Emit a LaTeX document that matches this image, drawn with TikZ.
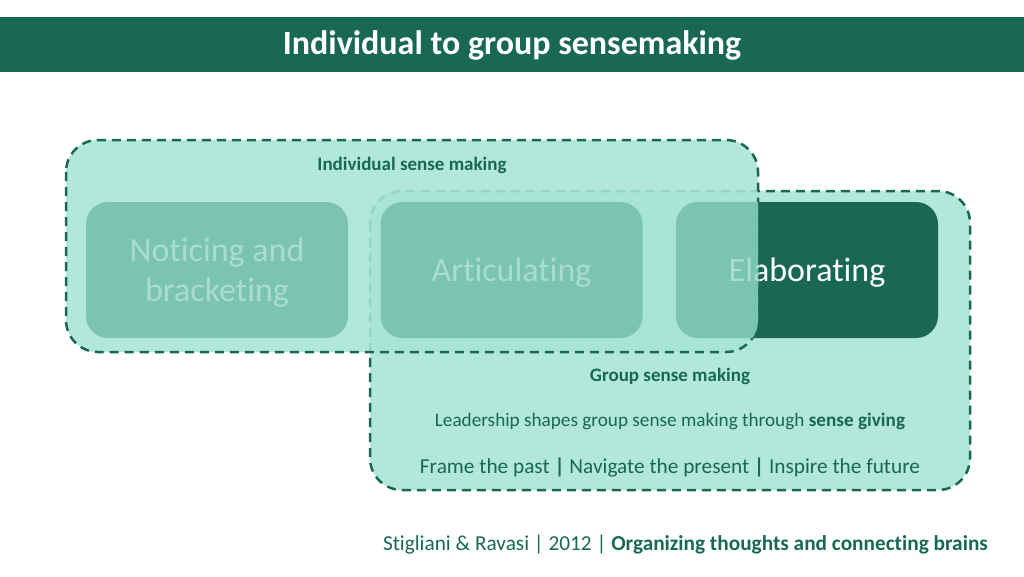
\documentclass[tikz,border=0pt]{standalone}
\usepackage{fontspec}
\setmainfont{Carlito}[Ligatures=NoCommon]
\definecolor{dg}{RGB}{24,104,84}
\definecolor{mint}{RGB}{178,232,218}
\definecolor{indfill}{RGB}{167,229,213}
\definecolor{tealbox}{RGB}{123,196,176}
\definecolor{paletxt}{RGB}{170,221,206}
\tikzset{
  outerbox/.style={draw=dg, line width=2.5pt, dash pattern=on 9pt off 6pt, fill=mint, rounded corners=32pt},
  stagebox/.style={fill=tealbox, rounded corners=22pt, minimum width=262pt, minimum height=136pt, inner sep=0pt},
  stagetext/.style={align=center, text=paletxt, inner sep=0pt, font=\fontsize{34}{40}\selectfont},
  lbl/.style={text=dg, inner sep=0pt}
}
\begin{document}
\begin{tikzpicture}[x=1pt,y=-1pt]
\useasboundingbox (0,0) rectangle (1024,576);
\fill[dg] (0,17) rectangle (1024,72);
\node[text=white, font=\bfseries\fontsize{34}{40}\selectfont] (title) at (512,45) {Individual to group sensemaking};
% group box
\draw[outerbox] (370,191) rectangle (970,490);
% dark elaborating
\node[stagebox, fill=dg] (elabdark) at (807,270) {};
\node[stagetext, text=white] (elabdarktxt) at (807,273) {Elaborating};
% individual box
\draw[outerbox, fill=indfill, fill opacity=0.88] (66,140) rectangle (758,352);
\node[stagebox] (notice) at (217,270) {};
\node[stagetext] (noticetxt) at (217,273) {Noticing and\\bracketing};
\node[stagebox] (artic) at (511.5,270) {};
\node[stagetext] (artictxt) at (511.5,273) {Articulating};
\begin{scope}
  \clip[rounded corners=32pt] (66,140) rectangle (758,352);
  \node[stagebox] (elablight) at (807,270) {};
  \node[stagetext] (elablighttxt) at (807,273) {Elaborating};
\end{scope}
\node[lbl, font=\bfseries\fontsize{19}{22}\selectfont] (indlabel) at (412,165) {Individual sense making};
\node[lbl, font=\bfseries\fontsize{19}{22}\selectfont] (grplabel) at (670,376) {Group sense making};
\node[lbl, font=\fontsize{19.2}{22}\selectfont] (lead) at (670,421) {Leadership shapes group sense making through \textbf{sense giving}};
\node[lbl, font=\fontsize{21.3}{24}\selectfont] (frame) at (670,468) {Frame the past \textbf{|} Navigate the present \textbf{|} Inspire the future};
\node[lbl, font=\fontsize{21.3}{24}\selectfont, anchor=east] (cite) at (988,545) {Stigliani \& Ravasi | 2012 | \textbf{Organizing thoughts and connecting brains}};
\end{tikzpicture}
\end{document}
